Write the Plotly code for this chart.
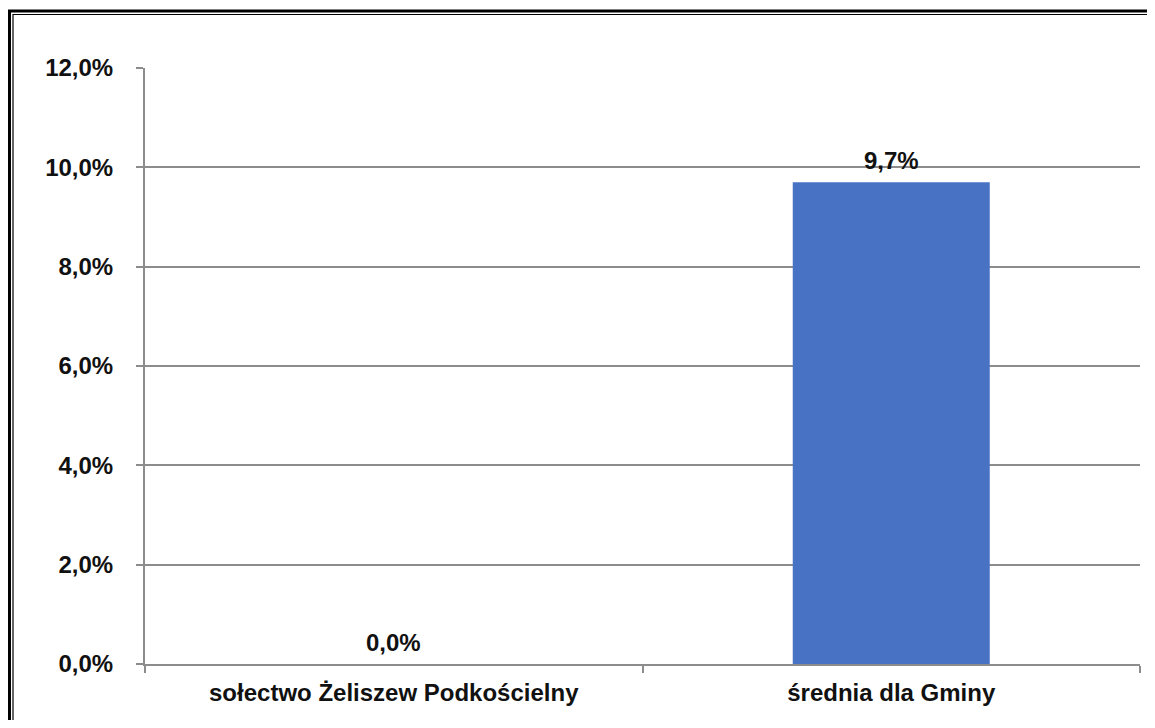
import plotly.graph_objects as go

categories = ['sołectwo Żeliszew Podkościelny', 'średnia dla Gminy']
values = [0.0, 0.097]
y_ticks = [0.0, 0.02, 0.04, 0.06, 0.08, 0.10, 0.12]

# the html page adds an 8px body margin round the figure
OFF = 8
W, H = 1155 - 2 * OFF, 728 - 2 * OFF
L, R, T, B = 145 - OFF, 15 - OFF, 68 - OFF, 64 - OFF
PW, PH = W - L - R, H - T - B


def px_x(p):
    return (p - OFF - L) / PW


def px_y(p):
    return 1 - (p - OFF - T) / PH


font = dict(family='Liberation Sans, Arial, sans-serif', size=24, color='#111111')

fig = go.Figure(go.Bar(
    x=categories,
    y=values,
    marker=dict(color='#4873c5', line=dict(width=0)),
    width=0.396,
    hoverinfo='skip',
))

# value labels above the bars
for c, v in zip(categories, values):
    fig.add_annotation(x=c, y=v, xref='x', yref='y',
                       text='<b>' + f'{v * 100:.1f}'.replace('.', ',') + '%</b>',
                       showarrow=False, yanchor='bottom', yshift=6, font=font)

# double frame around the chart
fig.add_shape(type='rect', xref='paper', yref='paper',
              x0=px_x(9.5), x1=px_x(1175), y0=px_y(11), y1=px_y(760),
              line=dict(color='black', width=3))
fig.add_shape(type='rect', xref='paper', yref='paper',
              x0=px_x(13), x1=px_x(1171), y0=px_y(14.5), y1=px_y(756),
              line=dict(color='black', width=1.2))

fig.update_layout(
    width=W, height=H,
    margin=dict(l=L, r=R, t=T, b=B),
    paper_bgcolor='white', plot_bgcolor='white',
    showlegend=False,
    font=font,
    xaxis=dict(
        showline=True, linecolor='#8c8c8c', linewidth=2,
        ticks='outside', tickson='boundaries', ticklen=7, tickcolor='#8c8c8c', tickwidth=2,
        tickfont=dict(size=24),
        tickvals=categories, ticktext=['<b>' + c + '</b>' for c in categories],
        ticklabelstandoff=6,
        showgrid=False,
    ),
    yaxis=dict(
        range=[0, 0.12], tickvals=y_ticks,
        ticktext=['<b>' + f'{v * 100:.1f}'.replace('.', ',') + '%</b>' for v in y_ticks],
        showline=True, linecolor='#8c8c8c', linewidth=2,
        ticks='outside', ticklen=7, tickcolor='#8c8c8c', tickwidth=2,
        gridcolor='#8c8c8c', gridwidth=1.5, zeroline=False,
        tickfont=dict(size=24),
        ticklabelstandoff=18,
    ),
)

fig.write_html('out.html')
